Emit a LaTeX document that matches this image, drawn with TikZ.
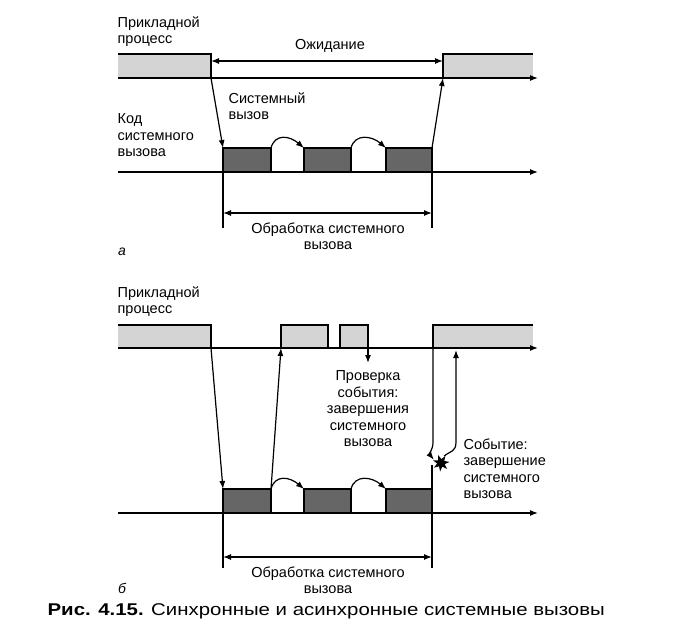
\documentclass[tikz,border=0pt]{standalone}
\usepackage{fontspec}
\setmainfont{Liberation Sans}
\usetikzlibrary{arrows.meta,shapes.geometric}

\begin{document}
\begin{tikzpicture}[x=1pt,y=-1pt,line width=1.2pt,
   >={Latex[length=8pt,width=6pt]},
   txt/.style={font=\fontsize{14.5}{16.5}\selectfont,inner sep=0pt},
   lightband/.style={fill=black!17},
   darkbox/.style={draw,fill=black!60,inner sep=0pt,outer sep=0pt,
                   minimum width=#1,minimum height=24pt,anchor=south west}]
   \useasboundingbox (0,0) rectangle (673,641);

   % a: synchronous call
   \node[txt,anchor=north west,align=left] (procA) at (117,16) {Прикладной\\процесс};
   \fill[lightband] (118,54) rectangle (211,78);
   \fill[lightband] (443,54) rectangle (533,78);
   \draw (118,54) -- (211,54) -- (211,78);
   \draw (533,54) -- (443,54) -- (443,78);
   \coordinate (a-stop) at (211,78);
   \coordinate (a-go) at (443,78);
   \coordinate (a-top-start) at (118,78);
   \coordinate (a-top-end) at (538,78);
   \draw[->] (a-top-start) -- (a-top-end);
   \coordinate (wait-l) at (211,61);
   \coordinate (wait-r) at (443,61);
   \draw[<->] (wait-l) -- (wait-r);
   \node[txt] (wait) at (330,46) {Ожидание};
   \node[txt,anchor=north west,align=left] (syscallA) at (228,92) {Системный\\вызов};
   \node[txt,anchor=north west,align=left] (codeA) at (117,113) {Код\\системного\\вызова};
   \coordinate (a-low-start) at (118,172);
   \coordinate (a-low-end) at (538,172);
   \draw[->] (a-low-start) -- (a-low-end);
   \node[darkbox=48] (a1) at (223,172) {};
   \node[darkbox=47] (a2) at (304,172) {};
   \node[darkbox=46] (a3) at (386,172) {};
   \draw[->] (a-stop) -- (a1.north west);
   \draw[->] (a3.north east) -- (a-go);
   \draw[->] (a1.north east) .. controls +(4,-15) and +(-14,-12) .. (a2.north west);
   \draw[->] (a2.north east) .. controls +(4,-15) and +(-14,-12) .. (a3.north west);
   \coordinate (a-l-bot) at (223,228);
   \coordinate (a-r-bot) at (432,228);
   \draw (a1.south west) -- (a-l-bot);
   \draw (a3.south east) -- (a-r-bot);
   \coordinate (a-span-l) at (223,213);
   \coordinate (a-span-r) at (432,213);
   \draw[<->] (a-span-l) -- (a-span-r);
   \node[txt,align=center] (handleA) at (328,236) {Обработка системного\\вызова};
   \node[txt,font=\fontsize{14}{16.5}\selectfont\itshape] (markA) at (122,252) {а};

   % b: asynchronous call
   \node[txt,anchor=north west,align=left] (procB) at (117,286) {Прикладной\\процесс};
   \fill[lightband] (118,325) rectangle (211,348);
   \fill[lightband] (433,325) rectangle (533,348);
   \draw (118,325) -- (211,325) -- (211,348);
   \draw (533,325) -- (433,325) -- (433,348);
   \draw[lightband,draw=black] (281,325) rectangle (328,348);
   \draw[lightband,draw=black] (340,325) rectangle (368,348);
   \coordinate (b-stop) at (211,348);
   \coordinate (b-back) at (281,348);
   \coordinate (poll) at (368,348);
   \coordinate (b-go) at (433,348);
   \coordinate (b-ack) at (456,350);
   \coordinate (b-ack-low) at (456,442);
   \coordinate (b-top-start) at (118,348);
   \coordinate (b-top-end) at (538,348);
   \draw[->] (b-top-start) -- (b-top-end);
   \coordinate (b-low-start) at (118,513);
   \coordinate (b-low-end) at (538,513);
   \draw[->] (b-low-start) -- (b-low-end);
   \node[darkbox=48] (b1) at (223,513) {};
   \node[darkbox=47] (b2) at (304,513) {};
   \node[darkbox=46] (b3) at (386,513) {};
   \draw[->] (b-stop) -- (b1.north west);
   \draw[->] (b1.north east) -- (b-back);
   \draw[->] (poll) -- ++(0,15);
   \draw[->] (b1.north east) .. controls +(4,-15) and +(-14,-12) .. (b2.north west);
   \draw[->] (b2.north east) .. controls +(4,-15) and +(-14,-12) .. (b3.north west);
   \node[star,star points=7,star point ratio=2.2,fill=black,draw=none,inner sep=0pt,
         minimum size=17pt,rotate=20] (event) at (441,463) {};
   \draw (b3.north east) -- ++(0,-24);
   \draw[->] (b-go) -- ++(0,94) .. controls +(0,8) and +(-5,-6) .. (event.north west);
   \draw[->] (event.north east) .. controls +(6,-5) and +(0,10) .. (b-ack-low) -- (b-ack);
   \node[txt,align=center,anchor=north] (check) at (368,370) {Проверка\\события:\\завершения\\системного\\вызова};
   \node[txt,anchor=north west,align=left] (eventtxt) at (463,438) {Событие:\\завершение\\системного\\вызова};
   \coordinate (b-l-bot) at (223,568);
   \coordinate (b-r-bot) at (432,568);
   \draw (b1.south west) -- (b-l-bot);
   \draw (b3.south east) -- (b-r-bot);
   \coordinate (b-span-l) at (223,557);
   \coordinate (b-span-r) at (432,557);
   \draw[<->] (b-span-l) -- (b-span-r);
   \node[txt,align=center] (handleB) at (328,580) {Обработка системного\\вызова};
   \node[txt,font=\fontsize{14}{16.5}\selectfont\itshape] (markB) at (122,588) {б};

   \node[font=\fontsize{17}{20}\selectfont,anchor=west,inner sep=0pt] (caption) at (47,611)
      {\scalebox{1.2}[1]{\textbf{Рис. 4.15.} Синхронные и асинхронные системные вызовы}};
\end{tikzpicture}
\end{document}
